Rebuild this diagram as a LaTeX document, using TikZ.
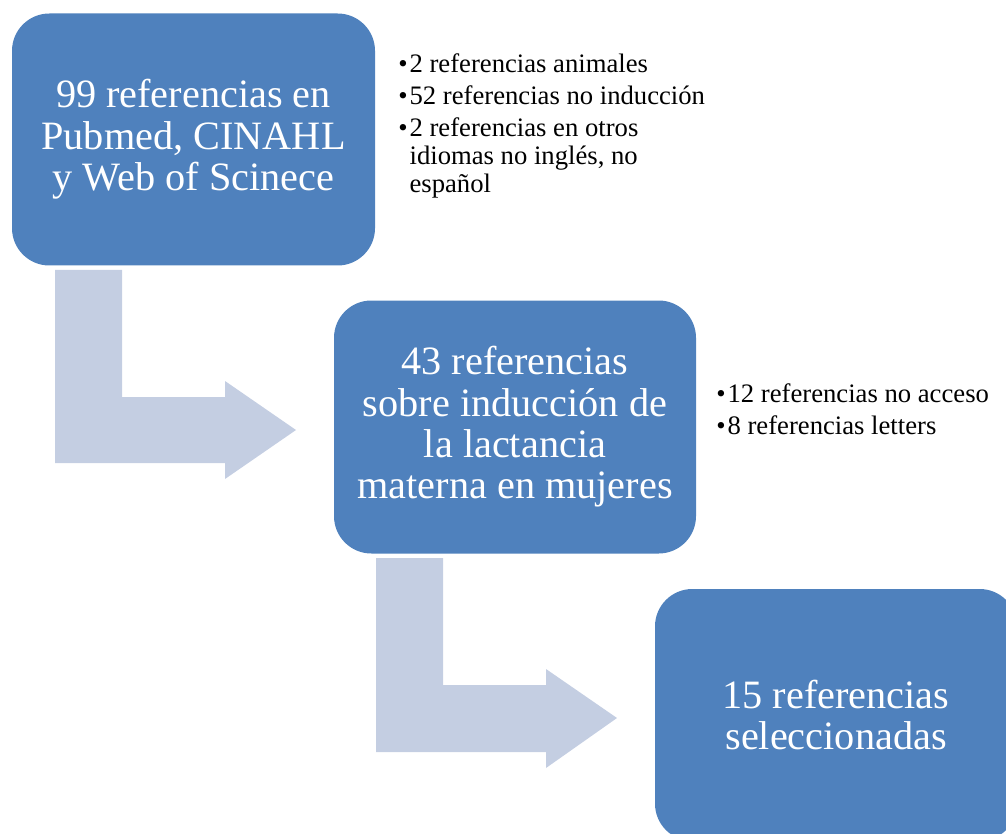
\documentclass[tikz,border=0pt]{standalone}
\usepackage{fontspec}
\setmainfont{Liberation Serif}
\definecolor{boxblue}{HTML}{4F81BD}
\definecolor{arrowgray}{HTML}{C4CEE2}
\tikzset{
  box/.style={draw=none, fill=boxblue, rounded corners=28pt, text=white,
    align=center, inner sep=0pt,
    font=\fontsize{30.2pt}{31pt}\selectfont},
  listtext/.style={inner sep=0pt, anchor=base west, text=black,
    font=\fontsize{20pt}{21pt}\selectfont},
  bendarrow/.style={fill=arrowgray, draw=none}
}
\begin{document}
\begin{tikzpicture}[x=0.75pt, y=-0.75pt]
\useasboundingbox (0,0) rectangle (1006,834);
\clip (0,0) rectangle (1006,834);
% bent arrows
\fill[bendarrow] (55,270) -- (122,270) -- (122,397) -- (225,397) -- (225,381)
  -- (296,430) -- (225,479) -- (225,463) -- (55,463) -- cycle;
\fill[bendarrow] (376,558) -- (443,558) -- (443,685) -- (546,685) -- (546,669)
  -- (617,718) -- (546,768) -- (546,752) -- (376,752) -- cycle;
% boxes
\node[box, minimum width=272.25pt, minimum height=189pt] (b1) at (193.5,139.5)
  {99 referencias en\\Pubmed, CINAHL\\y Web of Scinece};
\node[box, minimum width=271.5pt, minimum height=189.75pt] (b2) at (515,427)
  {43 referencias\\sobre inducción de\\la lactancia\\materna en mujeres};
\node[box, minimum width=271.5pt, minimum height=189pt] (b3) at (836,715)
  {15 referencias\\seleccionadas};
% lists
\node[listtext] (l1) at (398,73) {\begin{tabular}[t]{@{}l@{\hspace{1.5pt}}l@{}}
  • & 2 referencias animales\\[3pt]
  • & 52 referencias no inducción\\[3pt]
  • & 2 referencias en otros\\
    & idiomas no inglés, no\\
    & español
\end{tabular}};
\node[listtext] (l2) at (716,402) {\begin{tabular}[t]{@{}l@{\hspace{1.5pt}}l@{}}
  • & 12 referencias no acceso\\[3pt]
  • & 8 referencias letters
\end{tabular}};
\end{tikzpicture}
\end{document}
